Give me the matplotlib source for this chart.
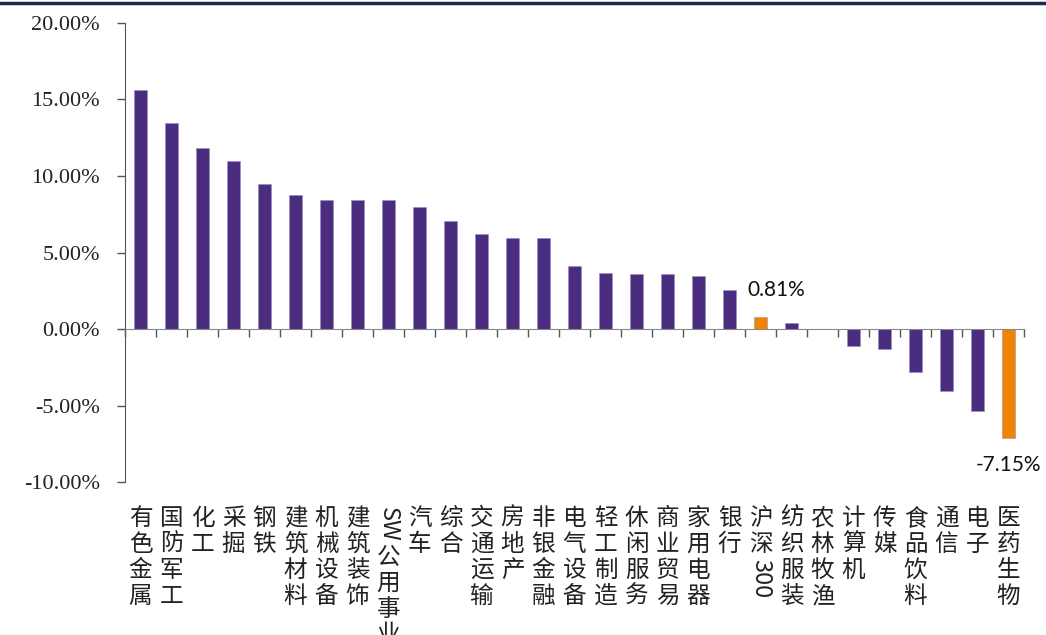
import matplotlib
matplotlib.use('Agg')
import matplotlib.pyplot as plt
from matplotlib.lines import Line2D
from matplotlib.ticker import FuncFormatter
from matplotlib.textpath import TextPath
from matplotlib.font_manager import FontProperties
import numpy as np
import re

# Industry returns, sorted high to low
industries = ['有色金属', '国防军工', '化工', '采掘', '钢铁', '建筑材料', '机械设备',
              '建筑装饰', 'SW公用事业', '汽车', '综合', '交通运输', '房地产', '非银金融',
              '电气设备', '轻工制造', '休闲服务', '商业贸易', '家用电器', '银行', '沪深300',
              '纺织服装', '农林牧渔', '计算机', '传媒', '食品饮料', '通信', '电子', '医药生物']
returns = [15.60, 13.45, 11.80, 11.00, 9.45, 8.75, 8.42, 8.40, 8.40, 8.00, 7.08,
           6.18, 5.98, 5.95, 4.12, 3.65, 3.60, 3.60, 3.45, 2.55, 0.81, 0.40, 0.03,
           -1.09, -1.33, -2.83, -4.03, -5.34, -7.15]
highlight = ['沪深300', '医药生物']
label_values = {'沪深300': 0.81, '医药生物': -7.15}

purple = '#4b2d7f'
orange = '#f08300'
cjk = ['Noto Sans CJK SC', 'DejaVu Sans']
cat_size = 17

fig = plt.figure(figsize=(10.46, 6.35), dpi=100)
ax = fig.add_axes([0.1195, 0.2409, 0.979 - 0.1195, 0.9638 - 0.2409])

x = np.arange(len(industries))
colors = [orange if name in highlight else purple for name in industries]
ax.bar(x, returns, width=0.42, color=colors, edgecolor='#9c8cc0', linewidth=0.4, zorder=2)

ax.set_xlim(-0.5, len(industries) - 0.5)
ax.set_ylim(-10, 20)
ax.set_yticks(np.arange(-10, 21, 5))
ax.yaxis.set_major_formatter(FuncFormatter(lambda v, p: f'{v:.2f}%'))
for lbl in ax.get_yticklabels():
    lbl.set_fontfamily('Liberation Serif')
ax.tick_params(axis='y', direction='out', length=6, width=1, color='#555555',
               labelsize=16, labelcolor='#222222', pad=12)

# x axis sits on the zero line, ticks between categories
ax.spines['bottom'].set_position(('data', 0))
ax.spines['bottom'].set_color('#888888')
ax.spines['left'].set_color('#555555')
ax.spines['top'].set_visible(False)
ax.spines['right'].set_visible(False)
ax.set_xticks(np.arange(len(industries) + 1) - 0.5)
ax.set_xticklabels([])
ax.tick_params(axis='x', direction='out', length=6, width=1, color='#555555')

# vertical category labels, one character per row, latin runs rotated
step = 18.7
prop = FontProperties(family='Noto Sans CJK SC')
for i, name in enumerate(industries):
    off = 18.0
    for tok in re.findall(r'[A-Za-z0-9]+|.', name):
        if tok.isascii():
            ax.annotate(tok, xy=(i, 0), xycoords=('data', 'axes fraction'),
                        xytext=(0, -off), textcoords='offset points',
                        ha='center', va='top', rotation=-90,
                        fontsize=cat_size, family=cjk, color='#222222')
            w = TextPath((0, 0), tok, size=cat_size, prop=prop).get_extents().width
            off += w + 4
        else:
            ax.annotate(tok, xy=(i, 0), xycoords=('data', 'axes fraction'),
                        xytext=(0, -off), textcoords='offset points',
                        ha='center', va='top', fontsize=cat_size, family=cjk, color='#222222')
            off += step

# value labels on highlighted bars
for name, val in label_values.items():
    i = industries.index(name)
    dy = 19 if val >= 0 else -19
    dx = 11 if val >= 0 else 0
    ax.annotate(f'{val:.2f}%', xy=(i, val), xytext=(dx, dy), textcoords='offset points',
                ha='center', va='center', fontsize=15, family='Lato', color='#111111')

# dark rule along the top edge
fig.add_artist(Line2D([0, 1], [0.9953, 0.9953], transform=fig.transFigure,
                      color='#1c2a48', linewidth=2.5))

fig.savefig('out.png', dpi=100)
